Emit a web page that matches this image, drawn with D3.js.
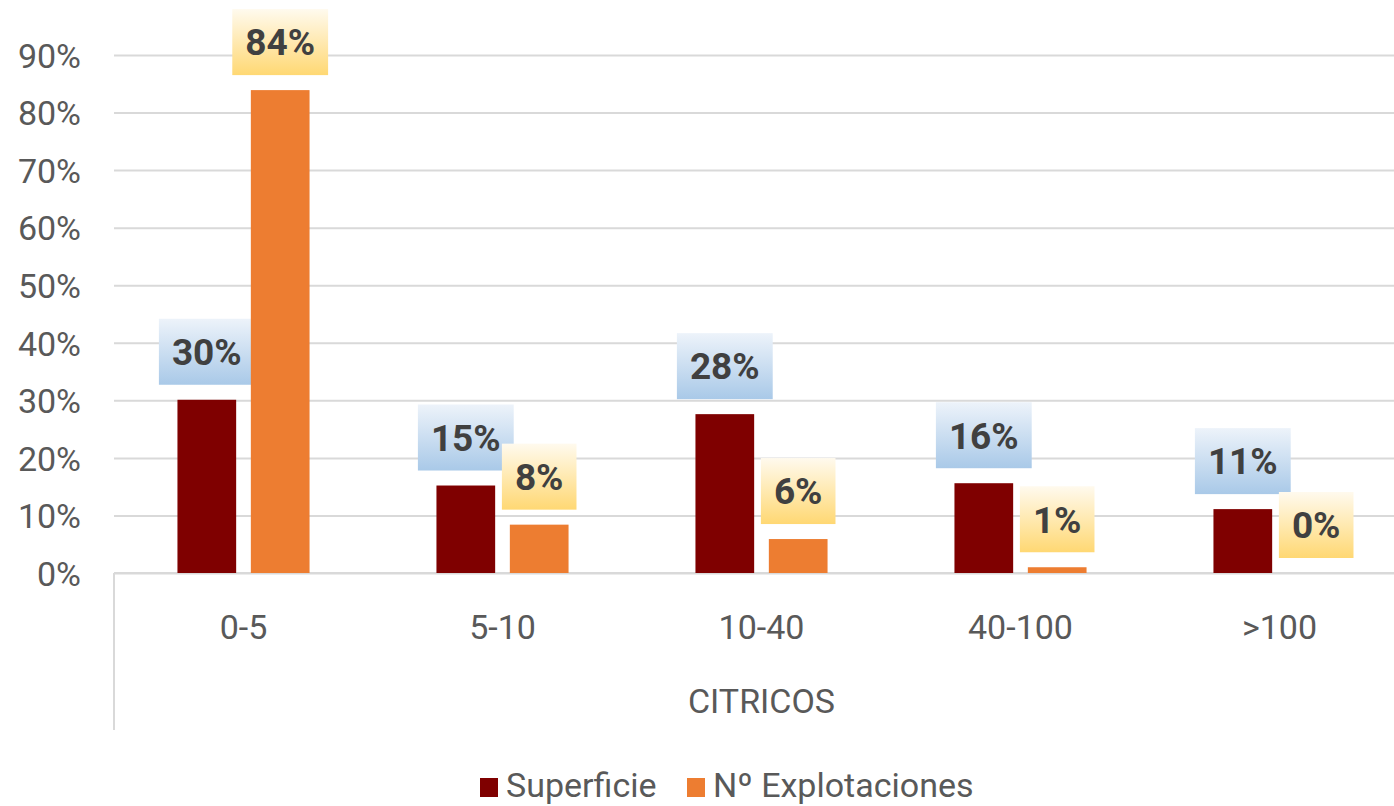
<!DOCTYPE html>
<html><head><meta charset="utf-8">
<script src="https://cdn.jsdelivr.net/npm/d3@7"></script>
<style>body{margin:0;background:#fff}svg{display:block}text{font-family:Roboto,"Open Sans",sans-serif}</style>
</head><body>
<svg id="c" width="1394" height="806"></svg>
<script>
const categories = ["0-5", "5-10", "10-40", "40-100", ">100"];
const seriesNames = ["Superficie", "Nº Explotaciones"];
const superficie = [30.1, 15.2, 27.6, 15.6, 11.1];
const explotaciones = [83.9, 8.4, 5.9, 1.0, 0.0];
const yTicks = [0, 10, 20, 30, 40, 50, 60, 70, 80, 90];
const axisTitle = "CITRICOS";

const colors = ["#7f0000", "#ed7d31"];
const boxGrad = [["#edf3fa", "#a9c9e8"], ["#fffaee", "#ffd873"]];

const svg = d3.select("#c");
const left = 114, right = 1409, gridRight = 1394, y0 = 573, yTop = 55;
const y = d3.scaleLinear().domain([0, 90]).range([y0, yTop]);
const x0 = d3.scaleBand().domain(categories).range([left, right]).paddingInner(0.49).paddingOuter(0.245);
const x1 = d3.scaleBand().domain(seriesNames).range([0, x0.bandwidth()]).paddingInner(0.2);

const defs = svg.append("defs");
boxGrad.forEach((g, i) => {
  const lg = defs.append("linearGradient").attr("id", "g" + i).attr("x1", 0).attr("y1", 0).attr("x2", 0).attr("y2", 1);
  lg.append("stop").attr("offset", "0%").attr("stop-color", g[0]);
  lg.append("stop").attr("offset", "100%").attr("stop-color", g[1]);
});

// gridlines
const yAxis = d3.axisLeft(y).tickValues(yTicks).tickSize(-(gridRight - left)).tickFormat(d => d + "%");
const ga = svg.append("g").attr("transform", `translate(${left},0)`).call(yAxis);
ga.select(".domain").remove();
ga.selectAll(".tick line").attr("stroke", "#d9d9d9").attr("stroke-width", 2).attr("x1", 0);
ga.selectAll(".tick text").attr("x", -33).attr("dy", "0.36em").attr("fill", "#595959").style("font-size", "34px");

// category axis lines
svg.append("line").attr("x1", left).attr("x2", gridRight).attr("y1", y0).attr("y2", y0).attr("stroke", "#d9d9d9").attr("stroke-width", 2);
svg.append("line").attr("x1", left).attr("x2", left).attr("y1", y0).attr("y2", 730).attr("stroke", "#d9d9d9").attr("stroke-width", 2);

// category labels
svg.append("g").selectAll("text").data(categories).join("text")
  .attr("x", d => x0(d) + x0.bandwidth() / 2).attr("y", 627).attr("dy", "0.36em")
  .attr("text-anchor", "middle").attr("fill", "#595959").style("font-size", "34px").text(d => d);
svg.append("text").attr("x", (left + right) / 2).attr("y", 701).attr("dy", "0.36em")
  .attr("text-anchor", "middle").attr("fill", "#595959").style("font-size", "34px").text(axisTitle);

const series = [superficie, explotaciones];
const fmt = v => Math.round(v) + "%";

// labels (boxes) drawn first
series.forEach((vals, si) => {
  const g = svg.append("g");
  vals.forEach((v, ci) => {
    const cx = x0(categories[ci]) + x1(seriesNames[si]) + x1.bandwidth() / 2;
    const t = g.append("text").attr("x", cx).attr("text-anchor", "middle")
      .attr("fill", "#404040").style("font-size", "37px").style("font-weight", "bold").text(fmt(v));
    const w = t.node().getComputedTextLength() + 26;
    const h = 66;
    const bottom = y(v) - 15;
    g.insert("rect", "text:last-of-type").attr("x", cx - w / 2).attr("y", bottom - h).attr("width", w).attr("height", h)
      .attr("fill", `url(#g${si})`);
    t.attr("y", bottom - h / 2).attr("dy", "0.36em").raise();
  });
});

// bars
series.forEach((vals, si) => {
  svg.append("g").selectAll("rect").data(vals).join("rect")
    .attr("x", (d, i) => x0(categories[i]) + x1(seriesNames[si]))
    .attr("y", d => y(d)).attr("width", x1.bandwidth()).attr("height", d => y0 - y(d))
    .attr("fill", colors[si]);
});

// legend
const legX = [480, 687];
seriesNames.forEach((n, i) => {
  svg.append("rect").attr("x", legX[i]).attr("y", 778).attr("width", 18).attr("height", 19).attr("fill", colors[i]);
  svg.append("text").attr("x", legX[i] + 26).attr("y", 797).attr("fill", "#595959")
    .style("font-size", "34px").text(n);
});
</script>
</body></html>
